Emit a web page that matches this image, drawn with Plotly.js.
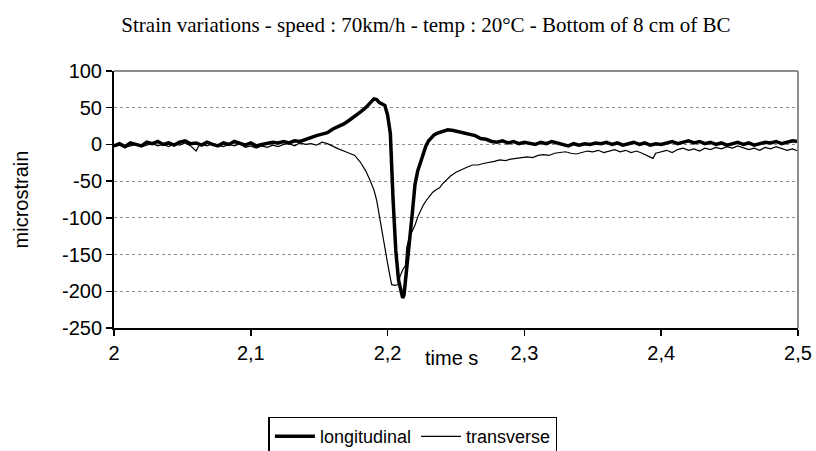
<!DOCTYPE html>
<html>
<head>
<meta charset="utf-8">
<script src="https://cdn.plot.ly/plotly-3.0.1.min.js"></script>
<style>html,body{margin:0;padding:0;background:#fff;}#chart{width:816px;height:451px;}</style>
</head>
<body>
<div id="chart"></div>
<script>
var timeLong = [2.000,2.004,2.008,2.012,2.016,2.020,2.024,2.028,2.032,2.036,2.040,2.044,2.048,2.052,2.056,2.060,2.064,2.068,2.072,2.076,2.080,2.084,2.088,2.092,2.096,2.100,2.104,2.108,2.112,2.116,2.120,2.124,2.128,
2.132,2.136,2.140,2.144,2.148,2.152,2.156,2.160,2.164,2.168,2.172,2.176,2.180,2.184,2.188,2.190,2.192,2.194,2.196,2.198,2.200,2.202,2.204,2.206,2.208,2.210,2.211,2.212,2.214,2.216,2.218,2.220,2.222,2.224,2.226,2.228,2.230,2.232,2.234,2.236,2.240,2.244,2.248,2.252,2.256,2.260,2.264,2.268,2.272,2.276,2.280,2.284,2.288,2.292,2.296,2.300,2.304,2.308,2.312,2.316,2.320,2.324,2.328,2.332,2.336,2.340,2.344,2.348,2.352,
2.356,2.360,2.364,2.368,2.372,2.376,2.380,2.384,2.388,2.392,2.396,2.400,2.404,2.408,2.412,2.416,2.420,2.424,2.428,2.432,2.436,2.440,2.444,2.448,2.452,2.456,2.460,2.464,2.468,2.472,2.476,2.480,2.484,2.488,2.492,2.496,2.500];
var longitudinal = [-2,1,-3,2,0,-2,3,1,4,0,2,-1,3,5,1,2,-1,3,0,-2,2,0,4,1,-1,2,-2,0,1,3,2,4,2,
5,4,7,9,12,14,16,21,24,28,33,38,44,50,58,62,61,57,55,53,40,15,-75,-145,-185,-203,-209,-205,-170,-140,-95,-55,-36,-25,-14,-2,5,10,13,15,17,20,19,17,15,13,12,8,7,4,3,5,2,4,1,3,2,0,3,1,4,2,0,-2,1,-1,1,0,2,
1,3,0,2,-1,1,3,0,2,-1,1,0,2,4,1,3,5,2,4,1,3,0,2,-1,1,3,0,2,-1,1,3,2,4,1,3,5,4];

var timeTrans = [2.000,2.004,2.008,2.012,2.016,2.020,2.024,2.028,2.032,2.036,2.040,2.044,2.048,2.052,2.056,2.060,2.062,2.064,2.068,2.072,2.076,2.080,2.084,2.088,2.092,2.096,2.100,2.104,2.108,2.112,2.116,2.120,2.124,2.128,2.132,2.136,2.140,2.144,2.148,2.152,2.156,2.160,2.164,2.168,2.172,2.176,2.180,2.184,2.187,2.190,2.192,2.194,2.196,2.198,2.200,2.202,2.203,2.206,2.208,2.209,2.211,2.213,2.214,2.216,2.218,2.220,2.222,2.224,2.226,2.228,2.230,2.233,2.236,2.238,2.240,2.243,2.246,2.250,2.254,2.258,2.262,2.266,2.270,2.274,2.278,2.282,2.286,2.290,2.294,2.298,2.302,2.306,2.310,2.314,2.318,2.322,2.326,2.330,2.334,2.338,2.342,2.346,2.350,2.354,2.358,2.362,2.366,2.370,2.374,2.378,2.382,2.386,2.390,2.394,2.396,2.400,2.404,2.408,2.412,2.416,2.420,2.424,2.428,2.432,2.436,2.440,2.444,2.448,2.452,2.456,2.460,2.464,2.468,2.472,2.476,2.480,2.484,2.488,2.492,2.496,2.500];
var transverse = [-3,-1,-4,-2,0,-3,-1,1,-2,0,-3,1,-1,2,-2,-9,-2,0,-2,1,-1,-3,0,-2,1,-4,-2,-5,-2,-4,-1,-3,0,1,-2,2,0,1,-1,3,1,-3,-6,-9,-12,-15,-24,-36,-48,-62,-76,-99,-118,-140,-162,-182,-191,-192,-190,-180,-171,-165,-140,-126,-118,-110,-99,-90,-83,-77,-72,-65,-61,-59,-54,-48,-43,-38,-34,-31,-28,-28,-26,-25,-23,-21,-22,-20,-19,-18,-17,-18,-15,-14,-15,-12,-11,-10,-12,-13,-11,-9,-10,-8,-11,-9,-7,-10,-8,-11,-9,-12,-15,-19,-12,-10,-8,-11,-7,-5,-8,-6,-9,-5,-7,-4,-6,-3,-5,-2,-4,-7,-5,-8,-4,-6,-3,-5,-8,-6,-9];

var xTickVals = [2, 2.1, 2.2, 2.3, 2.4, 2.5];
var xTickText = ['2', '2,1', '2,2', '2,3', '2,4', '2,5'];
var yTickVals = [100, 50, 0, -50, -100, -150, -200, -250];
var yTickText = ['100', '50', '0', '-50', '-100', '-150', '-200', '-250'];

var traces = [
  {x: timeLong, y: longitudinal, type: 'scatter', mode: 'lines', name: 'longitudinal',
   line: {color: '#000000', width: 3.5}},
  {x: timeTrans, y: transverse, type: 'scatter', mode: 'lines', name: 'transverse',
   line: {color: '#000000', width: 1.2}}
];

var layout = {
  width: 816, height: 451,
  margin: {l: 114, r: 18, t: 71, b: 123, autoexpand: false},
  paper_bgcolor: '#ffffff', plot_bgcolor: '#ffffff',
  font: {family: 'Liberation Sans, Arial, sans-serif', size: 20, color: '#000000'},
  title: {text: 'Strain variations - speed : 70km/h - temp : 20°C - Bottom of 8 cm of BC',
          font: {family: 'Liberation Serif, Times New Roman, serif', size: 21, color: '#000000'},
          x: 0.522, xanchor: 'center', xref: 'container', y: 0.945, yanchor: 'middle', yref: 'container'},
  xaxis: {range: [2, 2.5], tickvals: xTickVals, ticktext: xTickText,
          showgrid: false, zeroline: false, showline: true, linecolor: '#000000', linewidth: 2,
          ticks: 'outside', ticklen: 6, tickwidth: 1.5, tickcolor: '#000000',
          tickfont: {size: 20}, automargin: false},
  yaxis: {range: [-250, 100], tickvals: yTickVals, ticktext: yTickText,
          showgrid: true, gridcolor: '#8c8c8c', griddash: 'dot', gridwidth: 1,
          zeroline: false, showline: true, linecolor: '#000000', linewidth: 2,
          ticks: 'outside', ticklen: 6, tickwidth: 1.5, tickcolor: '#000000',
          tickfont: {size: 20}, automargin: false,
          title: {text: 'microstrain', font: {size: 20}, standoff: 28}},
  annotations: [
    {text: 'time s', xref: 'x', yref: 'paper', x: 2.247, y: -0.115, xanchor: 'center', yanchor: 'middle',
     showarrow: false, font: {size: 20}}
  ],
  showlegend: true,
  legend: {orientation: 'h', x: 0.437, xanchor: 'center', y: -0.345, yanchor: 'top',
           bordercolor: '#000000', borderwidth: 1.5, font: {size: 18}, bgcolor: '#ffffff',
           itemwidth: 40, tracegroupgap: 0},
  shapes: [
    {type: 'line', xref: 'paper', yref: 'paper', x0: 1, x1: 1, y0: 0, y1: 1,
     line: {color: '#8c8c8c', width: 2}},
    {type: 'line', xref: 'paper', yref: 'paper', x0: 0, x1: 1, y0: 1, y1: 1,
     line: {color: '#8c8c8c', width: 2}}
  ]
};

Plotly.newPlot('chart', traces, layout, {displayModeBar: false, staticPlot: true});
</script>
</body>
</html>
